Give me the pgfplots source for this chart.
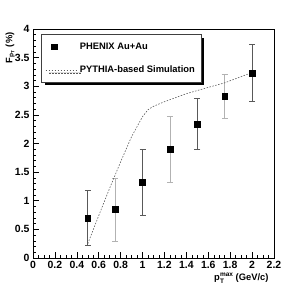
\documentclass[border=0pt]{standalone}
\usepackage{fontspec}
\setmainfont{Liberation Sans}
\usepackage{pgfplots}
\pgfplotsset{compat=1.18}
\usetikzlibrary{shadows}
\definecolor{darkbar}{gray}{0.35}
\definecolor{lightbar}{gray}{0.70}
\definecolor{curvecol}{gray}{0.35}
\pgfplotsset{mylegline/.style={legend image code/.code={\draw[##1] (0bp,0bp) -- (32bp,0bp);}}}

\pgfplotstableread{
x y e
0.5 0.70 0.48
1.0 1.32 0.58
1.5 2.34 0.45
2.0 3.23 0.50
}\darkdata
\pgfplotstableread{
x y e
0.75 0.85 0.55
1.25 1.90 0.58
1.75 2.82 0.38
}\lightdata
\pgfplotstableread{
x y
0.50 0.25
0.60 0.74
0.70 1.22
0.75 1.45
0.80 1.68
0.90 2.12
1.00 2.47
1.05 2.59
1.10 2.65
1.20 2.73
1.40 2.87
1.60 2.98
1.75 3.06
2.00 3.24
}\simdata

\begin{document}
\begin{tikzpicture}
\begin{axis}[
  at={(0,0)}, anchor=south west,
  scale only axis, width=241bp, height=229bp,
  xmin=0, xmax=2.2, ymin=0, ymax=4,
  xtick={0,0.2,0.4,0.6,0.8,1,1.2,1.4,1.6,1.8,2,2.2},
  ytick={0,0.5,1,1.5,2,2.5,3,3.5,4},
  minor x tick num=3, minor y tick num=4,
  tick align=inside, xtick pos=bottom, ytick pos=left,
  major tick length=6bp, minor tick length=3bp,
  tick style={black, line width=0.5bp},
  axis line style={line width=0.6bp},
  /pgf/number format/assume math mode=true,
  /pgf/number format/fixed,
  ticklabel style={font=\bfseries\fontsize{10.5}{12}\selectfont},
  xlabel={p\kern0.3pt{\fontsize{6.5}{6}\selectfont\begin{tabular}[c]{@{}l@{}}max\\[1pt]T\end{tabular}} (GeV/c)},
  xlabel style={at={(axis description cs:1,0)}, anchor=north east, yshift=-11bp, xshift=-2bp, font=\bfseries\fontsize{9.4}{11}\selectfont},
  ylabel={F\textsubscript{p\textsubscript{T}} (\%)},
  ylabel style={at={(axis description cs:-0.095,1)}, anchor=east, font=\bfseries\fontsize{9.4}{11}\selectfont},
  legend style={at={(axis description cs:0.033,0.976)}, anchor=north west,
    draw=black!75, line width=0.6bp, fill=white,
    font=\bfseries\fontsize{9.4}{11}\selectfont,
    inner xsep=4bp, inner ysep=6bp, row sep=11bp,
    drop shadow={shadow xshift=3.5bp, shadow yshift=-3bp, fill=black, opacity=1}},
  legend cell align=left,
]
\addplot[only marks, mark=square*, mark size=2.9bp, black,
  error bars/.cd, y dir=both, y explicit,
  error bar style={darkbar, line width=0.8bp},
  error mark options={darkbar, mark size=3bp, line width=0.6bp, rotate=90}]
  table[x=x, y=y, y error=e] {\darkdata};
\addlegendentry{PHENIX Au+Au}
\addplot[only marks, mark=square*, mark size=2.9bp, black, forget plot,
  error bars/.cd, y dir=both, y explicit,
  error bar style={lightbar, line width=0.8bp},
  error mark options={lightbar, mark size=3bp, line width=0.6bp, rotate=90}]
  table[x=x, y=y, y error=e] {\lightdata};
\addplot[curvecol, line width=0.6bp, dash pattern=on 1.5bp off 1.5bp, no marks, mylegline]
  table[x=x, y=y] {\simdata};
\addlegendentry{PYTHIA-based Simulation}
\end{axis}
\pgfresetboundingbox
\path (-33bp,-31bp) rectangle (271bp,258bp);
\end{tikzpicture}
\end{document}
